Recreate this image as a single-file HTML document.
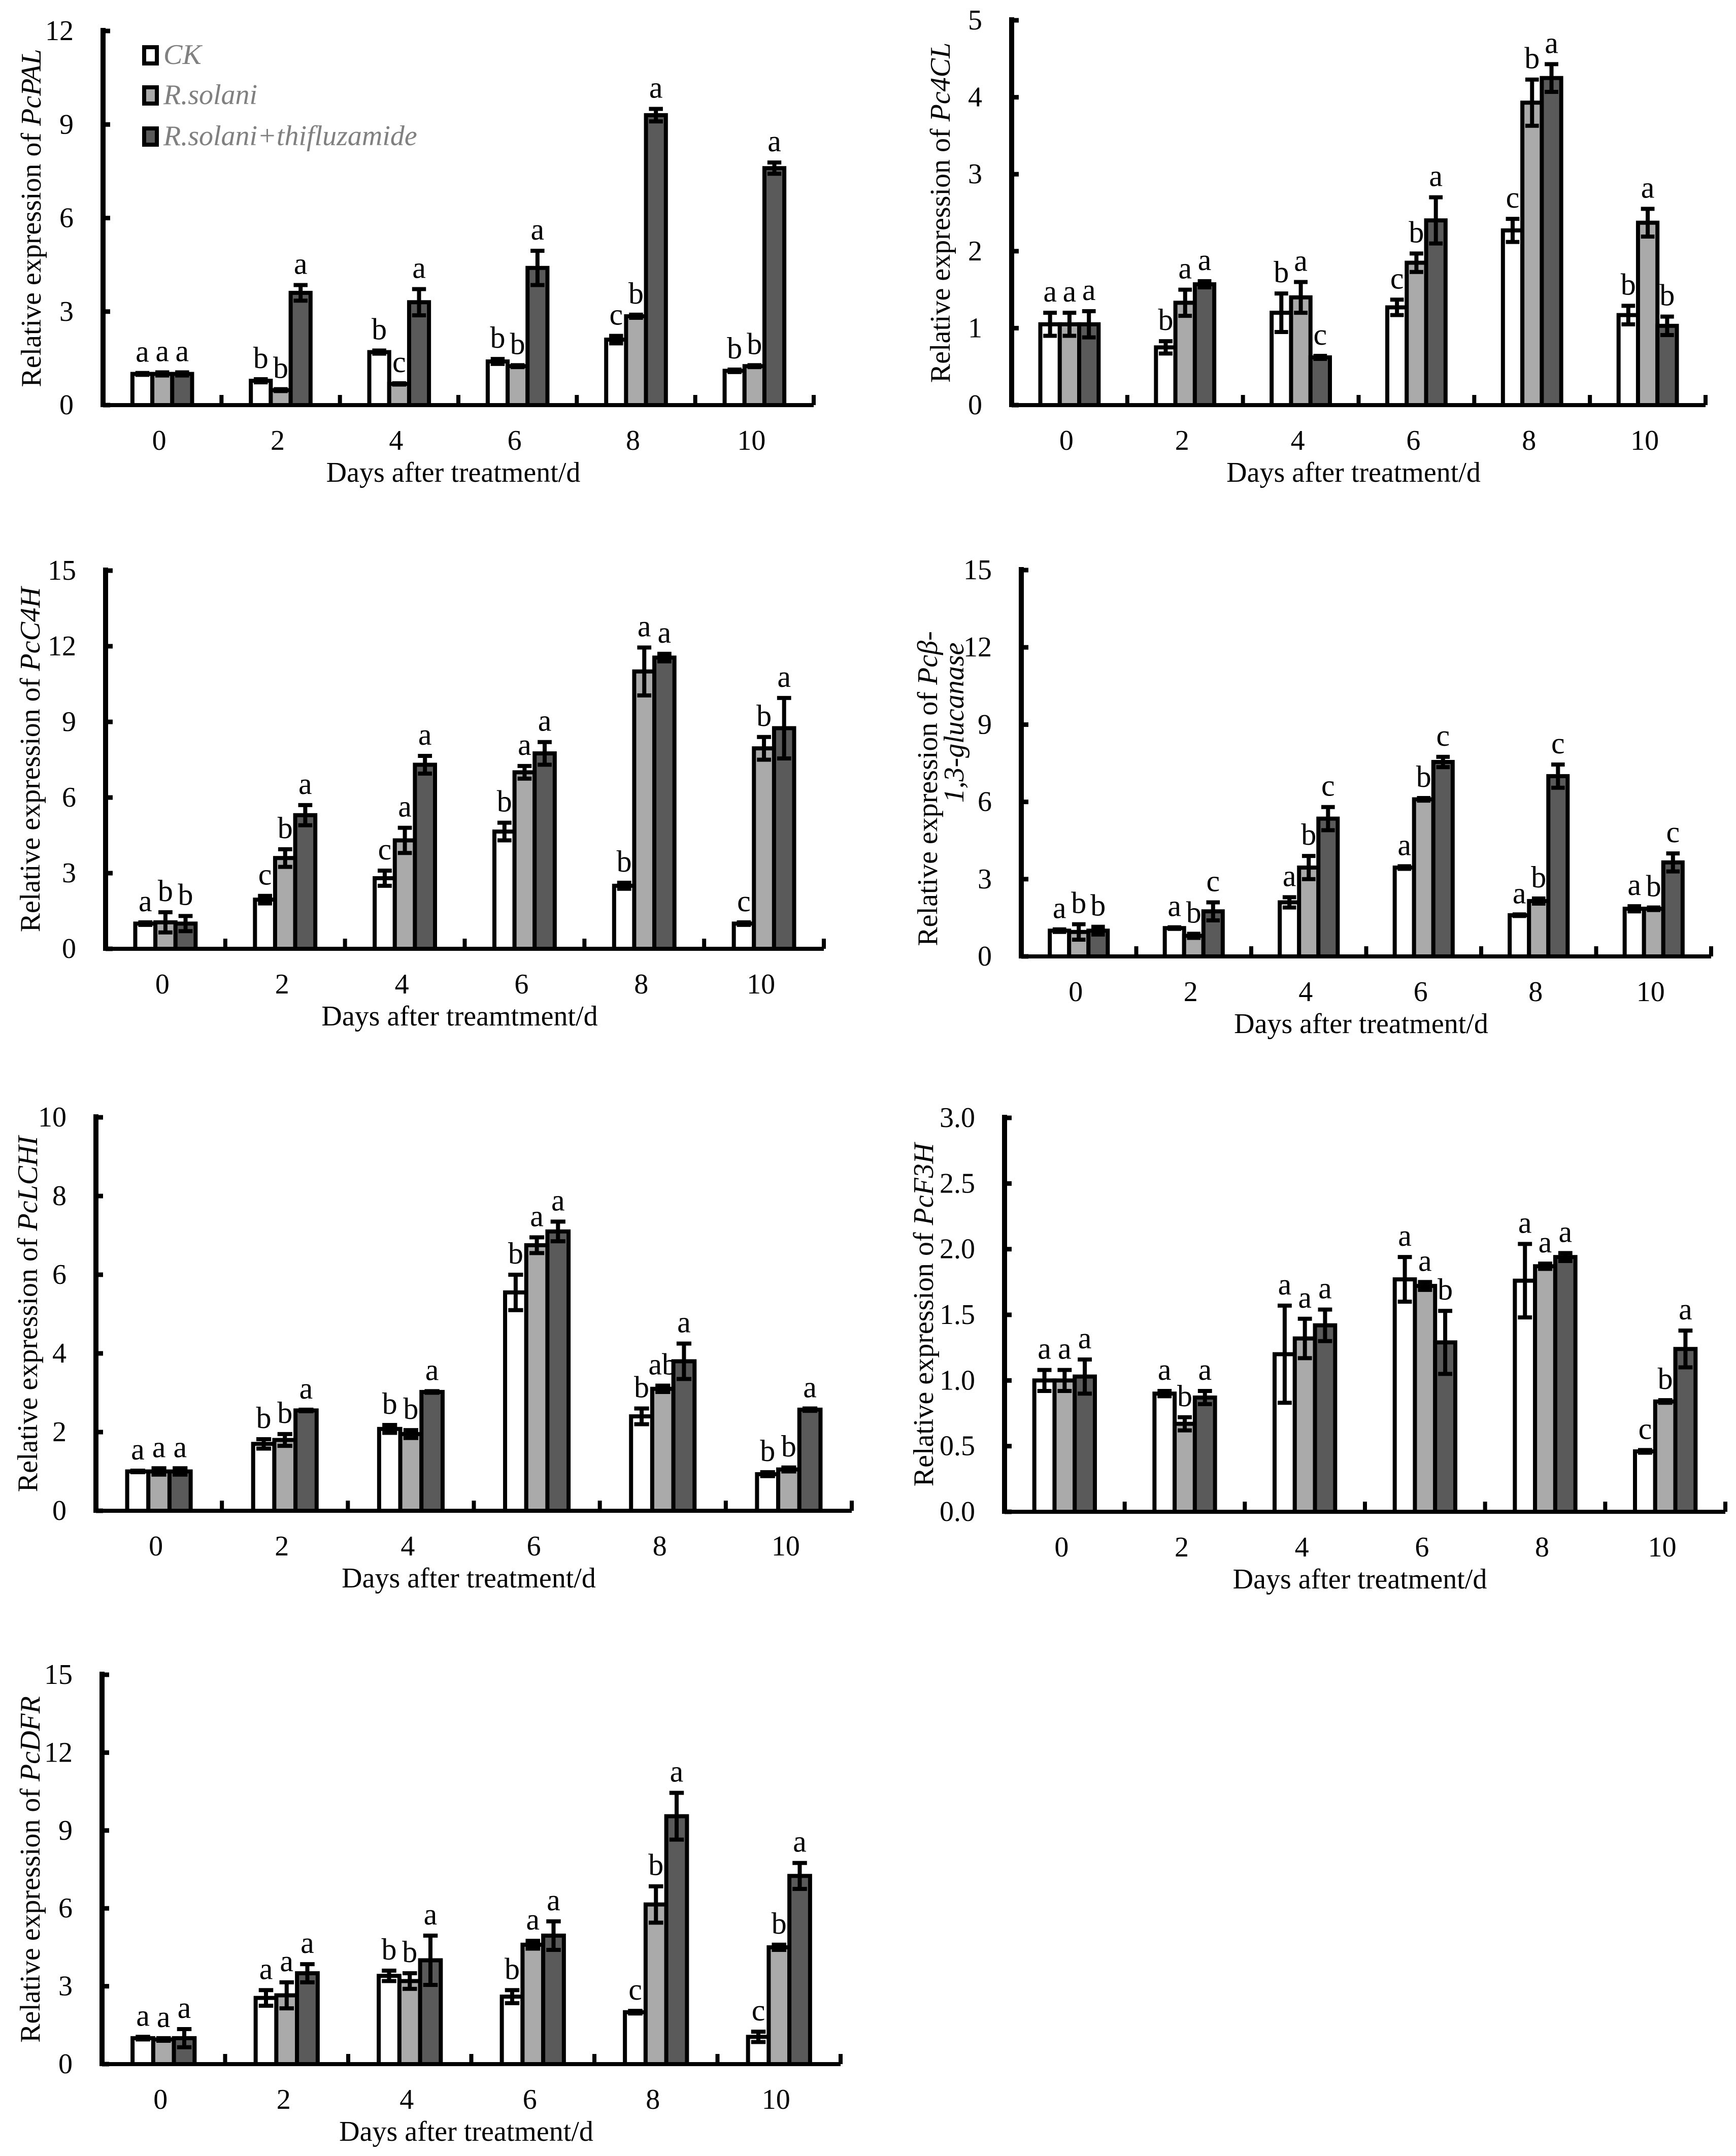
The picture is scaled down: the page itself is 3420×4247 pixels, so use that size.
<!DOCTYPE html>
<html><head><meta charset="utf-8"><style>
html,body{margin:0;padding:0;background:#fff;}
svg{display:block;font-family:"Liberation Serif","Times New Roman",serif;}
text,tspan{font-family:"Liberation Serif","Times New Roman",serif;fill:#000;}
</style></head><body>
<svg id="fig" width="3420" height="4247" viewBox="0 0 3420 4247" xmlns="http://www.w3.org/2000/svg" font-family="Liberation Serif, serif"></svg>
<script>
// Shared categories
const days = ["0","2","4","6","8","10"];
const seriesNames = ["CK","R.solani","R.solani+thifluzamide"];

// PcPAL
const palCK = [1.0,0.78,1.7,1.4,2.1,1.1];
const palRS = [1.0,0.48,0.68,1.25,2.85,1.25];
const palRST = [1.0,3.6,3.3,4.4,9.3,7.6];
const palErrCK = [0.03,0.05,0.05,0.08,0.12,0.04];
const palErrRS = [0.05,0.03,0.02,0.03,0.05,0.03];
const palErrRST = [0.05,0.25,0.42,0.55,0.2,0.18];
const palLetCK = ["a","b","b","b","c","b"];
const palLetRS = ["a","b","c","b","b","b"];
const palLetRST = ["a","a","a","a","a","a"];
const palTicks = ["0","3","6","9","12"];

// Pc4CL
const c4lCK = [1.05,0.75,1.2,1.27,2.27,1.17];
const c4lRS = [1.05,1.33,1.4,1.85,3.93,2.37];
const c4lRST = [1.05,1.57,0.62,2.4,4.25,1.03];
const c4lErrCK = [0.15,0.08,0.25,0.1,0.15,0.12];
const c4lErrRS = [0.15,0.17,0.2,0.12,0.3,0.18];
const c4lErrRST = [0.17,0.04,0.02,0.3,0.18,0.12];
const c4lLetCK = ["a","b","b","c","c","b"];
const c4lLetRS = ["a","a","a","b","b","a"];
const c4lLetRST = ["a","a","c","a","a","b"];
const c4lTicks = ["0","1","2","3","4","5"];

// PcC4H
const c4hCK = [1.0,1.95,2.8,4.65,2.5,1.0];
const c4hRS = [1.05,3.6,4.3,7.0,11.0,7.95];
const c4hRST = [1.0,5.3,7.3,7.75,11.55,8.75];
const c4hErrCK = [0.05,0.15,0.3,0.35,0.12,0.05];
const c4hErrRS = [0.4,0.35,0.5,0.25,0.95,0.45];
const c4hErrRST = [0.3,0.4,0.35,0.45,0.15,1.2];
const c4hLetCK = ["a","c","c","b","b","c"];
const c4hLetRS = ["b","b","a","a","a","b"];
const c4hLetRST = ["b","a","a","a","a","a"];
const c4hTicks = ["0","3","6","9","12","15"];

// Pc beta-1,3-glucanase
const gluCK = [1.0,1.1,2.1,3.45,1.6,1.85];
const gluRS = [0.95,0.8,3.45,6.1,2.15,1.85];
const gluRST = [1.0,1.75,5.35,7.55,7.0,3.65];
const gluErrCK = [0.05,0.03,0.2,0.05,0.03,0.1];
const gluErrRS = [0.3,0.08,0.45,0.05,0.1,0.05];
const gluErrRST = [0.15,0.35,0.45,0.2,0.45,0.35];
const gluLetCK = ["a","a","a","a","a","a"];
const gluLetRS = ["b","b","b","b","b","b"];
const gluLetRST = ["b","c","c","c","c","c"];
const gluTicks = ["0","3","6","9","12","15"];

// PcLCHI
const chiCK = [1.0,1.7,2.08,5.55,2.4,0.93];
const chiRS = [1.0,1.8,1.95,6.75,3.1,1.05];
const chiRST = [1.0,2.55,3.02,7.1,3.8,2.57];
const chiErrCK = [0.02,0.12,0.1,0.45,0.2,0.05];
const chiErrRS = [0.08,0.15,0.1,0.2,0.08,0.05];
const chiErrRST = [0.08,0.02,0.02,0.25,0.45,0.03];
const chiLetCK = ["a","b","b","b","b","b"];
const chiLetRS = ["a","b","b","a","ab","b"];
const chiLetRST = ["a","a","a","a","a","a"];
const chiTicks = ["0","2","4","6","8","10"];

// PcF3H
const f3hCK = [1.0,0.9,1.2,1.77,1.76,0.46];
const f3hRS = [1.0,0.67,1.32,1.72,1.87,0.84];
const f3hRST = [1.03,0.87,1.42,1.29,1.94,1.24];
const f3hErrCK = [0.08,0.02,0.37,0.17,0.28,0.01];
const f3hErrRS = [0.08,0.05,0.15,0.03,0.02,0.01];
const f3hErrRST = [0.13,0.05,0.12,0.24,0.03,0.14];
const f3hLetCK = ["a","a","a","a","a","c"];
const f3hLetRS = ["a","b","a","a","a","b"];
const f3hLetRST = ["a","a","a","b","a","a"];
const f3hTicks = ["0.0","0.5","1.0","1.5","2.0","2.5","3.0"];

// PcDFR
const dfrCK = [1.0,2.55,3.4,2.6,2.0,1.05];
const dfrRS = [0.95,2.65,3.2,4.6,6.15,4.5];
const dfrRST = [1.0,3.5,4.0,4.95,9.55,7.25];
const dfrErrCK = [0.05,0.3,0.2,0.25,0.05,0.2];
const dfrErrRS = [0.05,0.5,0.3,0.15,0.7,0.1];
const dfrErrRST = [0.35,0.35,0.95,0.55,0.9,0.5];
const dfrLetCK = ["a","a","b","b","c","c"];
const dfrLetRS = ["a","a","b","a","b","b"];
const dfrLetRST = ["a","a","a","a","a","a"];
const dfrTicks = ["0","3","6","9","12","15"];

const NS = "http://www.w3.org/2000/svg";
const svg = document.getElementById("fig");
const fills = ["#ffffff","#aaaaaa","#5a5a5a"];
const FF = "Liberation Serif, serif";

function mk(tag, attrs, parent){
  const e = document.createElementNS(NS, tag);
  for (const k in attrs) e.setAttribute(k, attrs[k]);
  if (tag === "text") e.setAttribute("font-family", FF);
  (parent||svg).appendChild(e);
  return e;
}

function panel(cfg){
  const g = mk("g", {});
  
  
  const ticks = cfg.ticks;
  const yMax = parseFloat(ticks[ticks.length-1]);
  const yS = v => cfg.base - v/yMax*(cfg.base-cfg.top);
  const gw = (cfg.x1-cfg.x0)/days.length;
  const bw = gw*0.168;
  const gc = i => cfg.x0 + gw*(i+0.5);

  const series = [cfg.ck, cfg.rs, cfg.rst];
  const errs = [cfg.eck, cfg.ers, cfg.erst];
  const lets = [cfg.lck, cfg.lrs, cfg.lrst];
  for (let i=0;i<days.length;i++){
    for (let s=0;s<3;s++){
      const v = series[s][i], e = errs[s][i];
      const bx = gc(i) + (s-1.5)*bw;
      const r = mk("rect", {x:bx, y:yS(v), width:bw, height:cfg.base-yS(v), fill:fills[s], stroke:"#000", "stroke-width":8}, g);
      
      
      const cx = bx + bw/2;
      const eg = mk("g", {stroke:"#000","stroke-width":8}, g);
      
      
      mk("line", {x1:cx, x2:cx, y1:yS(v+e), y2:yS(Math.max(0,v-e))}, eg);
      mk("line", {x1:cx-bw*0.35, x2:cx+bw*0.35, y1:yS(v+e), y2:yS(v+e)}, eg);
      mk("line", {x1:cx-bw*0.35, x2:cx+bw*0.35, y1:yS(Math.max(0,v-e)), y2:yS(Math.max(0,v-e))}, eg);
      const t = mk("text", {x:cx, y:yS(v+e)-22, "font-size":60, "text-anchor":"middle"}, g);
      t.textContent = lets[s][i];
      
      
    }
  }
  const ax = mk("g", {stroke:"#000"}, g);
  
  
  mk("line", {x1:cfg.x0, x2:cfg.x0, y1:cfg.top-6, y2:cfg.base+4, "stroke-width":10}, ax);
  mk("line", {x1:cfg.x0-5, x2:cfg.x1, y1:cfg.base, y2:cfg.base, "stroke-width":8}, ax);
  for (let k=0;k<ticks.length;k++){
    const yy = yS(parseFloat(ticks[k]));
    mk("line", {x1:cfg.x0, x2:cfg.x0+14, y1:yy, y2:yy, "stroke-width":9}, ax);
    const t = mk("text", {x:cfg.x0-58, y:yy, "font-size":56, "text-anchor":"end", "dominant-baseline":"central"}, g);
    t.textContent = ticks[k];
    
    
  }
  for (let i=1;i<=days.length;i++){
    const xx = cfg.x0 + gw*i;
    mk("line", {x1:xx, x2:xx, y1:cfg.base, y2:cfg.base-20, "stroke-width":8}, ax);
  }
  for (let i=0;i<days.length;i++){
    const t = mk("text", {x:gc(i)-6, y:cfg.base+70, "font-size":56, "text-anchor":"middle", "dominant-baseline":"central"}, g);
    t.textContent = days[i];
    
    
  }
  const xt = mk("text", {x:(cfg.x0+cfg.x1)/2-10, y:cfg.base+133, "font-size":56, "text-anchor":"middle", "dominant-baseline":"central"}, g);
  xt.textContent = cfg.xtitle;
  
  

  const cy = (cfg.top+cfg.base)/2;
  const yt = mk("text", {x:0, y:0, "font-size":56, "text-anchor":"middle", "dominant-baseline":"central", transform:"translate("+cfg.ytx+","+(cfg.gene2?cy+50:cy)+") rotate(-90)"}, g);
  
  
  yt.appendChild(document.createTextNode("Relative expression of "));
  const ts = mk("tspan", {"font-style":"italic", "font-family":FF}, yt);
  ts.textContent = cfg.gene;
  if (cfg.gene2){
    const yt2 = mk("text", {x:0, y:0, "font-size":56, "font-style":"italic", "text-anchor":"middle", "dominant-baseline":"central", transform:"translate("+(cfg.ytx+52)+","+(cy-80)+") rotate(-90)"}, g);
    yt2.textContent = cfg.gene2;
    
    
  }
}

panel({name:"pcpal", gene:"PcPAL", x0:203, x1:1603, top:61, base:798, ytx:62, ticks:palTicks, xtitle:"Days after treatment/d",
  ck:palCK, rs:palRS, rst:palRST, eck:palErrCK, ers:palErrRS, erst:palErrRST, lck:palLetCK, lrs:palLetRS, lrst:palLetRST});
panel({name:"pc4cl", gene:"Pc4CL", x0:1993, x1:3360, top:40, base:798, ytx:1853, ticks:c4lTicks, xtitle:"Days after treatment/d",
  ck:c4lCK, rs:c4lRS, rst:c4lRST, eck:c4lErrCK, ers:c4lErrRS, erst:c4lErrRST, lck:c4lLetCK, lrs:c4lLetRS, lrst:c4lLetRST});
panel({name:"pcc4h", gene:"PcC4H", x0:208, x1:1623, top:1124, base:1869, ytx:60, ticks:c4hTicks, xtitle:"Days after treamtment/d",
  ck:c4hCK, rs:c4hRS, rst:c4hRST, eck:c4hErrCK, ers:c4hErrRS, erst:c4hErrRST, lck:c4hLetCK, lrs:c4hLetRS, lrst:c4hLetRST});
panel({name:"pcglucanase", gene:"Pcβ-", gene2:"1,3-glucanase", x0:2012, x1:3371, top:1123, base:1884, ytx:1828, ticks:gluTicks, xtitle:"Days after treatment/d",
  ck:gluCK, rs:gluRS, rst:gluRST, eck:gluErrCK, ers:gluErrRS, erst:gluErrRST, lck:gluLetCK, lrs:gluLetRS, lrst:gluLetRST});
panel({name:"pclchi", gene:"PcLCHI", x0:189, x1:1678, top:2201, base:2976, ytx:55, ticks:chiTicks, xtitle:"Days after treatment/d",
  ck:chiCK, rs:chiRS, rst:chiRST, eck:chiErrCK, ers:chiErrRS, erst:chiErrRST, lck:chiLetCK, lrs:chiLetRS, lrst:chiLetRST});
panel({name:"pcf3h", gene:"PcF3H", x0:1979, x1:3399, top:2202, base:2978, ytx:1820, ticks:f3hTicks, xtitle:"Days after treatment/d",
  ck:f3hCK, rs:f3hRS, rst:f3hRST, eck:f3hErrCK, ers:f3hErrRS, erst:f3hErrRST, lck:f3hLetCK, lrs:f3hLetRS, lrst:f3hLetRST});
panel({name:"pcdfr", gene:"PcDFR", x0:201, x1:1656, top:3299, base:4066, ytx:60, ticks:dfrTicks, xtitle:"Days after treatment/d",
  ck:dfrCK, rs:dfrRS, rst:dfrRST, eck:dfrErrCK, ers:dfrErrRS, erst:dfrErrRST, lck:dfrLetCK, lrs:dfrLetRS, lrst:dfrLetRST});

// Legend (in PcPAL panel)
const lg = mk("g", {});


const legendY = [108,187,268];
for (let s=0;s<3;s++){
  const ent = mk("g", {}, lg);
  
  
  mk("rect", {x:284, y:legendY[s]-15, width:25, height:32, fill:fills[s], stroke:"#000", "stroke-width":8}, ent);
  const t = mk("text", {x:322, y:legendY[s], "font-size":56, "font-style":"italic", "dominant-baseline":"central"}, ent);
  t.setAttribute("style","fill:#808080");
  t.textContent = seriesNames[s];
}
</script>
</body></html>
